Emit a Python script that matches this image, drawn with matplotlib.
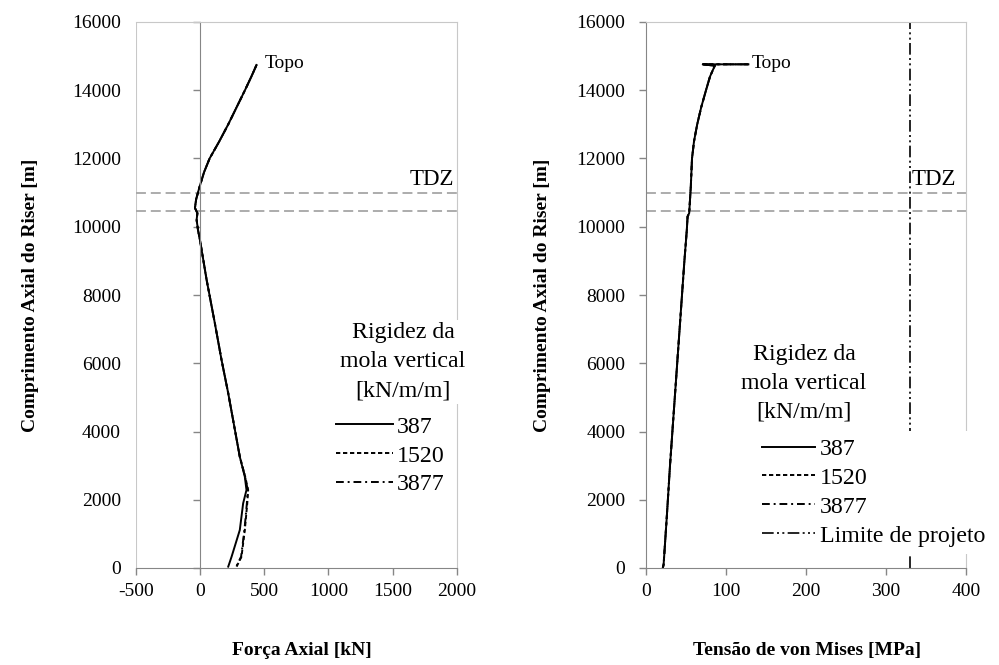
import matplotlib
matplotlib.use("Agg")
import matplotlib.pyplot as plt

plt.rcParams['font.family'] = ['Liberation Serif', 'DejaVu Serif']
plt.rcParams['axes.unicode_minus'] = False

# ---------------- data ----------------
# Left: Axial force [kN] vs axial length [m]
depth_f = [14740, 14400, 14000, 13500, 13000, 12500, 12000, 11600, 11270, 11077,
           10800, 10550, 10400, 10200, 9900, 9610, 8440, 7170, 6095, 5120,
           4045, 3260, 2675, 2286, 1895, 1113, 330, 40]
force_387 = [440, 400, 350, 285, 220, 150, 75, 32, 5, -10,
             -30, -39, -20, -26, -15, 0, 52, 116, 168, 220,
             272, 310, 349, 362, 336, 310, 246, 220]
force_1520 = [440, 400, 350, 285, 220, 150, 75, 32, 5, -10,
              -30, -39, -20, -26, -15, 0, 52, 116, 168, 220,
              272, 310, 352, 375, 368, 349, 323, 285]
force_3877 = [440, 400, 350, 285, 220, 150, 75, 32, 5, -10,
              -30, -39, -20, -26, -15, 0, 52, 116, 168, 220,
              272, 310, 351, 372, 365, 346, 320, 282]

# Right: von Mises stress [MPa] vs axial length [m]
depth_s = [14760, 14760, 14720, 14400, 14000, 13500, 13000, 12500, 12000, 11175,
           10400, 10300, 9900, 9000, 7000, 5000, 3000, 1500, 100, 0]
stress_387 = [128, 71, 86, 80, 75, 69, 64, 60, 57.5, 56,
              54, 52, 51, 48, 42, 36, 30, 26, 22, 21]
stress_1520 = [128, 71, 86, 80, 75, 69, 64, 60, 57.5, 56,
               54, 52, 51, 48, 42, 36, 30, 26, 22, 21]
stress_3877 = [128, 71, 86, 80, 75, 69, 64, 60, 57.5, 56,
               54, 52, 51, 48, 42, 36, 30, 26, 22, 21]
limite_projeto = 330

tdz_levels = [11000, 10450]
series_labels = ['387', '1520', '3877']
legend_title = 'Rigidez da\nmola vertical\n[kN/m/m]'

# ---------------- figure ----------------
W, H = 999, 665
fig = plt.figure(figsize=(W / 100, H / 100), dpi=100)

def fx(px):
    return px / W

def fy(py):
    return 1 - py / H

axL = fig.add_axes([fx(135.7), fy(568), (457 - 135.7) / W, (568 - 22) / H])
axR = fig.add_axes([fx(646), fy(568), (966 - 646) / W, (568 - 22) / H])

AXIS_C = '#868686'
BORDER_C = '#c8c8c8'
FS_TICK = 14
FS_LAB = 14
FS_LEG = 17.2
FS_TXT = 14
FS_TDZ = 16.5

styles = [dict(ls='-'), dict(dashes=(2.2, 1.4)), dict(dashes=(4, 2, 1, 2))]

# ---- left ----
for xs, st, lab in zip([force_387, force_1520, force_3877], styles, series_labels):
    axL.plot(xs, depth_f, color='black', lw=1.4, label=lab, **st)
axL.set_xlim(-500, 2000)
axL.set_ylim(0, 16000)
axL.set_xticks(range(-500, 2001, 500))
axL.set_yticks(range(0, 16001, 2000))
axL.spines['left'].set_position(('data', 0))
axL.spines['left'].set_color(AXIS_C)
axL.spines['bottom'].set_color(AXIS_C)
for s in ['top', 'right']:
    axL.spines[s].set_color(BORDER_C)
axL.axvline(-500, color=BORDER_C, lw=1.5, zorder=0)
axL.tick_params(axis='y', direction='out', length=5, width=1, color=AXIS_C,
                pad=52, labelsize=FS_TICK)
axL.tick_params(axis='x', direction='out', length=5, width=1, color=AXIS_C,
                pad=6, labelsize=FS_TICK)
for lvl in tdz_levels:
    axL.axhline(lvl, color='#a6a6a6', lw=1.3, dashes=(5.5, 2.7), zorder=1)
axL.text(505, 14780, 'Topo', fontsize=FS_TXT, va='center', ha='left')
axL.text(1633, 11380, 'TDZ', fontsize=FS_TDZ, va='center', ha='left')
axL.set_xlabel('Força Axial [kN]', fontsize=FS_LAB, fontweight='bold')
axL.set_ylabel('Comprimento Axial do Riser [m]', fontsize=FS_LAB, fontweight='bold')
axL.xaxis.set_label_coords(0.518, -0.135)
axL.yaxis.set_label_coords(-0.301, 0.5)

legL = axL.legend(loc='upper left', bbox_to_anchor=(fx(336), fy(416)),
                  bbox_transform=fig.transFigure, frameon=False, fontsize=FS_LEG,
                  handlelength=2.4, handletextpad=0.15, labelspacing=0.3,
                  borderpad=0, borderaxespad=0)
fig.text(fx(403), fy(362), legend_title, fontsize=FS_LEG, ha='center', va='center',
         linespacing=1.5, zorder=10,
         bbox=dict(facecolor='white', edgecolor='none', pad=2))

# ---- right ----
for xs, st, lab in zip([stress_387, stress_1520, stress_3877], styles, series_labels):
    axR.plot(xs, depth_s, color='black', lw=1.4, label=lab, **st)
axR.axvline(limite_projeto, color='black', lw=1.2, dashes=(7, 2, 1.2, 2, 1.2, 2),
            label='Limite de projeto')
axR.set_xlim(0, 400)
axR.set_ylim(0, 16000)
axR.set_xticks(range(0, 401, 100))
axR.set_yticks(range(0, 16001, 2000))
axR.spines['left'].set_color(AXIS_C)
axR.spines['bottom'].set_color(AXIS_C)
for s in ['top', 'right']:
    axR.spines[s].set_color(BORDER_C)
axR.tick_params(axis='y', direction='out', length=5, width=1, color=AXIS_C,
                pad=10, labelsize=FS_TICK)
axR.tick_params(axis='x', direction='out', length=5, width=1, color=AXIS_C,
                pad=6, labelsize=FS_TICK)
for lvl in tdz_levels:
    axR.axhline(lvl, color='#a6a6a6', lw=1.3, dashes=(5.5, 2.7), zorder=1)
axR.text(132, 14780, 'Topo', fontsize=FS_TXT, va='center', ha='left')
axR.text(332, 11380, 'TDZ', fontsize=FS_TDZ, va='center', ha='left')
axR.set_xlabel('Tensão de von Mises [MPa]', fontsize=FS_LAB, fontweight='bold')
axR.set_ylabel('Comprimento Axial do Riser [m]', fontsize=FS_LAB, fontweight='bold')
axR.xaxis.set_label_coords(0.503, -0.135)
axR.yaxis.set_label_coords(-0.297, 0.5)

legR = axR.legend(loc='upper left', bbox_to_anchor=(fx(755), fy(431)),
                  bbox_transform=fig.transFigure, frameon=True, fontsize=FS_LEG,
                  handlelength=2.2, handletextpad=0.2, labelspacing=0.3,
                  borderpad=0.3, borderaxespad=0, fancybox=False)
legR.get_frame().set_facecolor('white')
legR.get_frame().set_edgecolor('none')
legR.get_frame().set_alpha(1)
fig.text(fx(804), fy(383), legend_title, fontsize=FS_LEG, ha='center', va='center',
         linespacing=1.5, zorder=10)

fig.savefig('out.png', dpi=100)
